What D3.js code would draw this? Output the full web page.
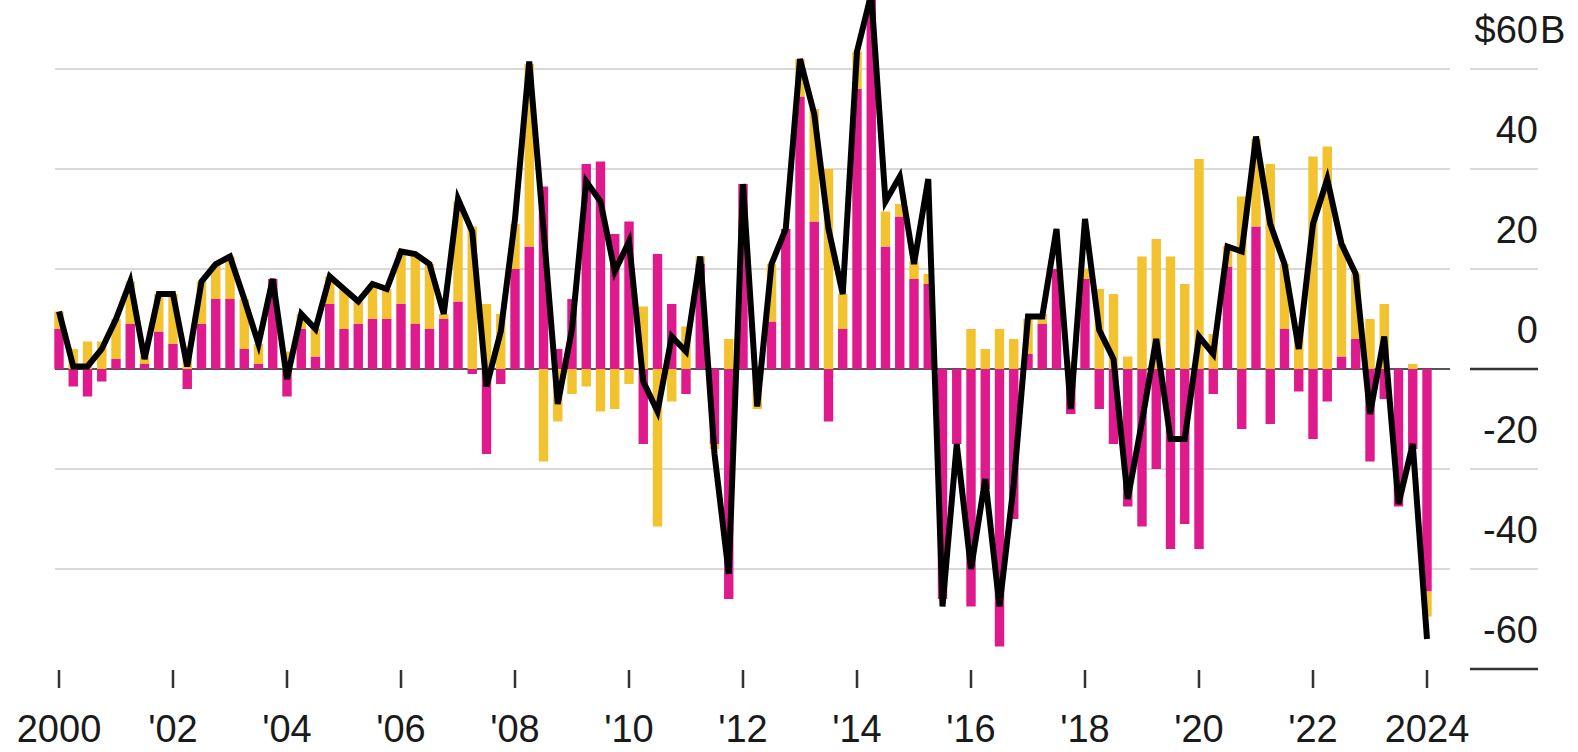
<!DOCTYPE html>
<html>
<head>
<meta charset="utf-8">
<script src="https://cdn.jsdelivr.net/npm/d3@7"></script>
<style>
  body { margin: 0; background: #fff; }
  text { font-family: "Liberation Sans", Arial, sans-serif; fill: #1a1a1a; }
</style>
</head>
<body>
<script>
// quarterly flows, 2000 Q1 .. 2024 Q1 ($B)
var quarters = []
d3.range(2000, 2025).forEach(function(yr){
  d3.range(1, 5).forEach(function(q){
    if (yr < 2024 || q == 1) quarters.push(yr + ' Q' + q)
  })
})

var pink = [
  8, -3.5, -5.5, -2.5, 2, 9, 1, 7.5, 5, -4,
  9, 14, 14, 4, 1, 18, -5.5, 8, 2.5, 13,
  8, 9, 10, 10, 13, 9, 8, 10, 13.5, -1,
  -17, -3, 20, 24.5, 36.5, 4, 14, 41, 41.5, 27,
  29.5, -15, 23, 13, -5, 21, -15, -46, 37, 0.5,
  9.5, 28, 54.5, 29.5, -10.5, 8, 56, 75, 24.5, 30.5,
  18, 17, -46, -15, -47.5, -24, -55.5, -30, 3, 9,
  20, -9, 18, -8, -15, -27.5, -31.5, -20, -36, -31,
  -36, -5, 20.5, -12, 28.5, -11, 8, -4.5, -14, -6.5,
  2.5, 6, -18.5, -6, -27.5, -16, -44.5
]

var yellow = [
  3.5, 4, 5.5, 5.5, 8, 8.5, 1.5, 7.5, 10, 4.5,
  8.5, 7, 8.5, 10, 4, 0, 3.5, 3, 5.5, 5.5,
  8, 4.5, 7, 6, 10.5, 14, 13, 1, 20, 28.5,
  13, 11, 9, 36.5, -18.5, -10.5, -5, -3.5, -8.5, -8,
  -3, 12.5, -31.5, -6.5, 8.5, 1.5, -1, 6, 0, -8,
  11.5, 0, 7.5, 22.5, 40, 7, 7.5, 0, 7, 2.5,
  3.5, 2, 0, 0, 8, 4, 8, 6, 7, 2,
  0, 1.5, 2, 16, 15, 2.5, 22.5, 26, 22.5, 17,
  42, 7, 4, 34.5, 17.5, 41, 13, 8.5, 42.5, 44.5,
  22.5, 13, 10, 13, 0, 1, -5
]

var net = [
  11.5, 0.5, 0.5, 4, 10, 17.5, 2, 15, 15, 0.5,
  17.5, 21, 22.5, 14, 5, 18, -2, 11, 8, 18.5,
  16, 13.5, 17, 16, 23.5, 23, 21, 11, 34, 27.5,
  -3.5, 7.5, 30, 61.5, 28, -7, 8, 37.5, 33.5, 19.5,
  25.5, -2.5, -8.5, 6.5, 3.5, 22.5, -17, -41, 37, -7.5,
  21, 28, 62, 51, 28, 15, 63.5, 75, 33.5, 38.5,
  21, 38, -47.5, -15, -40, -22, -47.5, -23, 10.5, 10.5,
  28, -8, 30, 7.8, 2, -26, -10.5, 6, -14, -14,
  6.5, 3, 24.5, 23.5, 46.5, 29, 21, 4, 29, 38,
  25, 19, -9, 6.5, -27, -15, -54
]

var xTicks = ['2000 Q1', '2002 Q1', '2004 Q1', '2006 Q1', '2008 Q1', '2010 Q1', '2012 Q1',
              '2014 Q1', '2016 Q1', '2018 Q1', '2020 Q1', '2022 Q1', '2024 Q1']
var xLabels = ['2000', "'02", "'04", "'06", "'08", "'10", "'12", "'14", "'16", "'18", "'20", "'22", '2024']
var yTicks = [60, 40, 20, 0, -20, -40, -60]
var yLabels = ['$60', '40', '20', '0', '-20', '-40', '-60']

var w = 1578
var h = 752
var pinkColor = '#df1a8c'
var yellowColor = '#f3c22f'

var svg = d3.select('body')
  .append('svg')
  .attr('width', w)
  .attr('height', h)

var step = 14.25
var x = d3.scaleBand()
  .domain(quarters)
  .range([59 - step / 2, 59 - step / 2 + step * quarters.length])
  .paddingInner(0.34)
  .paddingOuter(0.17)

var y = d3.scaleLinear()
  .domain([-60, 60])
  .range([669, 69])

// grid lines (main part + short piece under the labels)
yTicks.forEach(function(t){
  var dark = (t == 0 || t == -60)
  if (t != -60) {
    svg.append('line')
      .attr('x1', 55).attr('x2', 1450)
      .attr('y1', y(t)).attr('y2', y(t))
      .attr('stroke', dark ? '#555' : '#d9d9d9')
      .attr('stroke-width', 2)
  }
  svg.append('line')
    .attr('x1', 1470).attr('x2', 1538)
    .attr('y1', y(t)).attr('y2', y(t))
    .attr('stroke', dark ? '#333' : '#d9d9d9')
    .attr('stroke-width', dark ? 2.5 : 2)
})

// stacked bars, pink nearest zero
var rows = quarters.map(function(q, i){
  return { q: q, pink: pink[i], yellow: yellow[i] }
})
var series = d3.stack()
  .keys(['pink', 'yellow'])
  .offset(d3.stackOffsetDiverging)(rows)

svg.selectAll('g.series')
  .data(series)
  .enter()
  .append('g')
  .attr('fill', function(s){ return s.key == 'pink' ? pinkColor : yellowColor })
  .selectAll('rect')
  .data(function(s){ return s })
  .enter()
  .append('rect')
  .attr('x', function(d){ return x(d.data.q) })
  .attr('y', function(d){ return y(Math.max(d[0], d[1])) })
  .attr('width', x.bandwidth())
  .attr('height', function(d){ return Math.abs(y(d[0]) - y(d[1])) })

// net line
var line = d3.line()
  .x(function(d, i){ return x(quarters[i]) + x.bandwidth() / 2 })
  .y(function(d){ return y(d) })

svg.append('path')
  .datum(net)
  .attr('d', line)
  .attr('fill', 'none')
  .attr('stroke', '#000')
  .attr('stroke-width', 6)
  .attr('stroke-linejoin', 'miter')

// x axis
var xAxis = d3.axisBottom(x)
  .tickValues(xTicks)
  .tickSize(18)
  .tickFormat(function(d){ return xLabels[xTicks.indexOf(d)] })

var gx = svg.append('g')
  .attr('transform', 'translate(0,670)')
  .call(xAxis)
gx.select('.domain').remove()
gx.selectAll('line').attr('stroke', '#333').attr('stroke-width', 2.5)
gx.selectAll('text')
  .attr('y', 72)
  .attr('dy', 0)
  .attr('font-size', '38px')
  .attr('font-family', '"Liberation Sans", Arial, sans-serif')
  .attr('fill', '#1a1a1a')

// y labels on the right
svg.selectAll('text.ylab')
  .data(yTicks)
  .enter()
  .append('text')
  .attr('class', 'ylab')
  .attr('x', 1538)
  .attr('y', function(d){ return y(d) - 26 })
  .attr('text-anchor', 'end')
  .attr('font-size', '38px')
  .text(function(d, i){ return yLabels[i] })

svg.append('text')
  .attr('x', 1540)
  .attr('y', y(60) - 26)
  .attr('font-size', '38px')
  .text('B')
</script>
</body>
</html>
